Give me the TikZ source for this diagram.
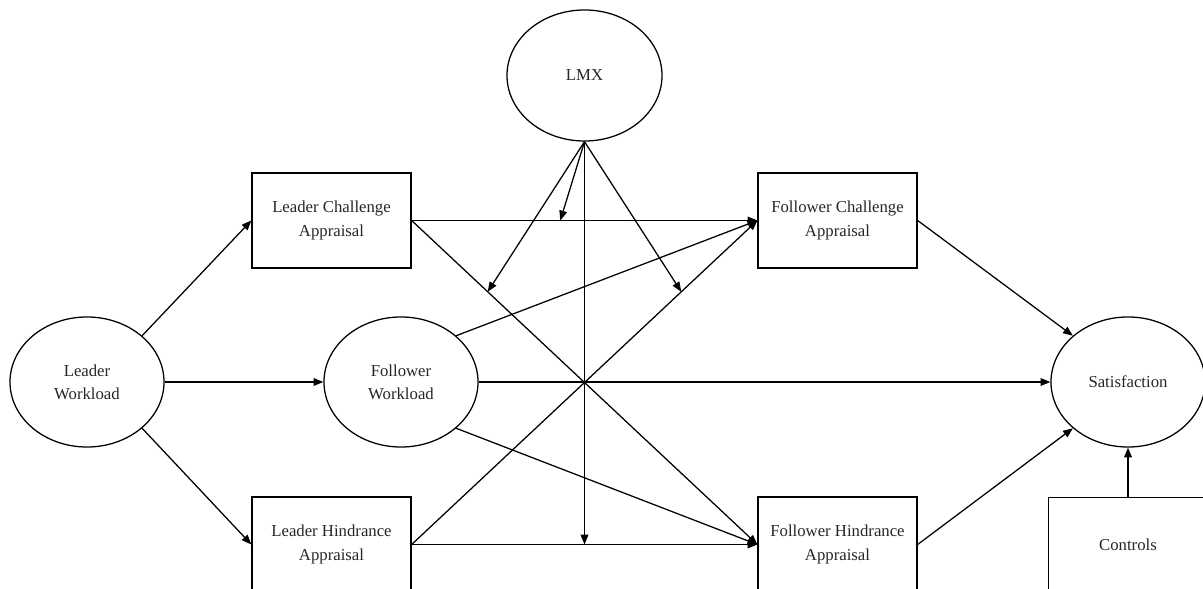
\documentclass[tikz,border=0pt]{standalone}
\usepackage{fontspec}
\setmainfont{Liberation Serif}
\usetikzlibrary{shapes.geometric,arrows.meta}

\begin{document}
\begin{tikzpicture}[x=0.025cm,y=-0.025cm,line width=0.9pt,
    >={Triangle[length=7pt,width=5.5pt]},
    every node/.style={font=\fontsize{11.9}{16.4}\selectfont,align=center,text=black!85},
    latent/.style={ellipse,draw,inner sep=0pt,minimum width=3.85cm,minimum height=3.25cm},
    appraisal/.style={rectangle,draw,inner sep=0pt,minimum width=3.975cm,minimum height=2.375cm}]
    \useasboundingbox (0,0) rectangle (1203,589);
    \clip (0,0) rectangle (1203,589);
    \node[latent,minimum width=3.875cm,minimum height=3.275cm] (lmx) at (584.5,75.5) {LMX};
    \node[latent] (lw) at (87,382) {Leader\\Workload};
    \node[latent] (fw) at (401,382) {Follower\\Workload};
    \node[latent] (sat) at (1128,382) {Satisfaction};
    \node[appraisal] (lca) at (331.5,220.5) {Leader Challenge\\Appraisal};
    \node[appraisal] (fca) at (837.5,220.5) {Follower Challenge\\Appraisal};
    \node[appraisal] (lha) at (331.5,544.5) {Leader Hindrance\\Appraisal};
    \node[appraisal] (fha) at (837.5,544.5) {Follower Hindrance\\Appraisal};
    \node[appraisal] (ctrl) at (1128,545) {Controls};
    % leader workload
    \draw[->] (lw.40) -- (lca.west);
    \draw[->] (lw.east) -- (fw.west);
    \draw[->] (lw.-40) -- (lha.west);
    % leader appraisals to follower appraisals
    \draw[->] (lca.east) -- coordinate[pos=0.43] (ma) (fca.west);
    \draw[->] (lca.east) -- coordinate[pos=0.22] (mb) (fha.west);
    \draw[->] (lha.east) -- coordinate[pos=0.78] (mc) (fca.west);
    \draw[->] (lha.east) -- coordinate[pos=0.5] (md) (fha.west);
    % follower workload
    \draw[->] (fw.40) -- (fca.west);
    \draw[->] (fw.east) -- (sat.west);
    \draw[->] (fw.-40) -- (fha.west);
    % outcome
    \draw[->] (fca.east) -- (sat.140);
    \draw[->] (fha.east) -- (sat.220);
    \draw[->] (ctrl.north) -- (sat.south);
    % moderation
    \draw[->] (lmx.south) -- (ma);
    \draw[->] (lmx.south) -- (mb);
    \draw[->] (lmx.south) -- (mc);
    \draw[->] (lmx.south) -- (md);
  \end{tikzpicture}
\end{document}
